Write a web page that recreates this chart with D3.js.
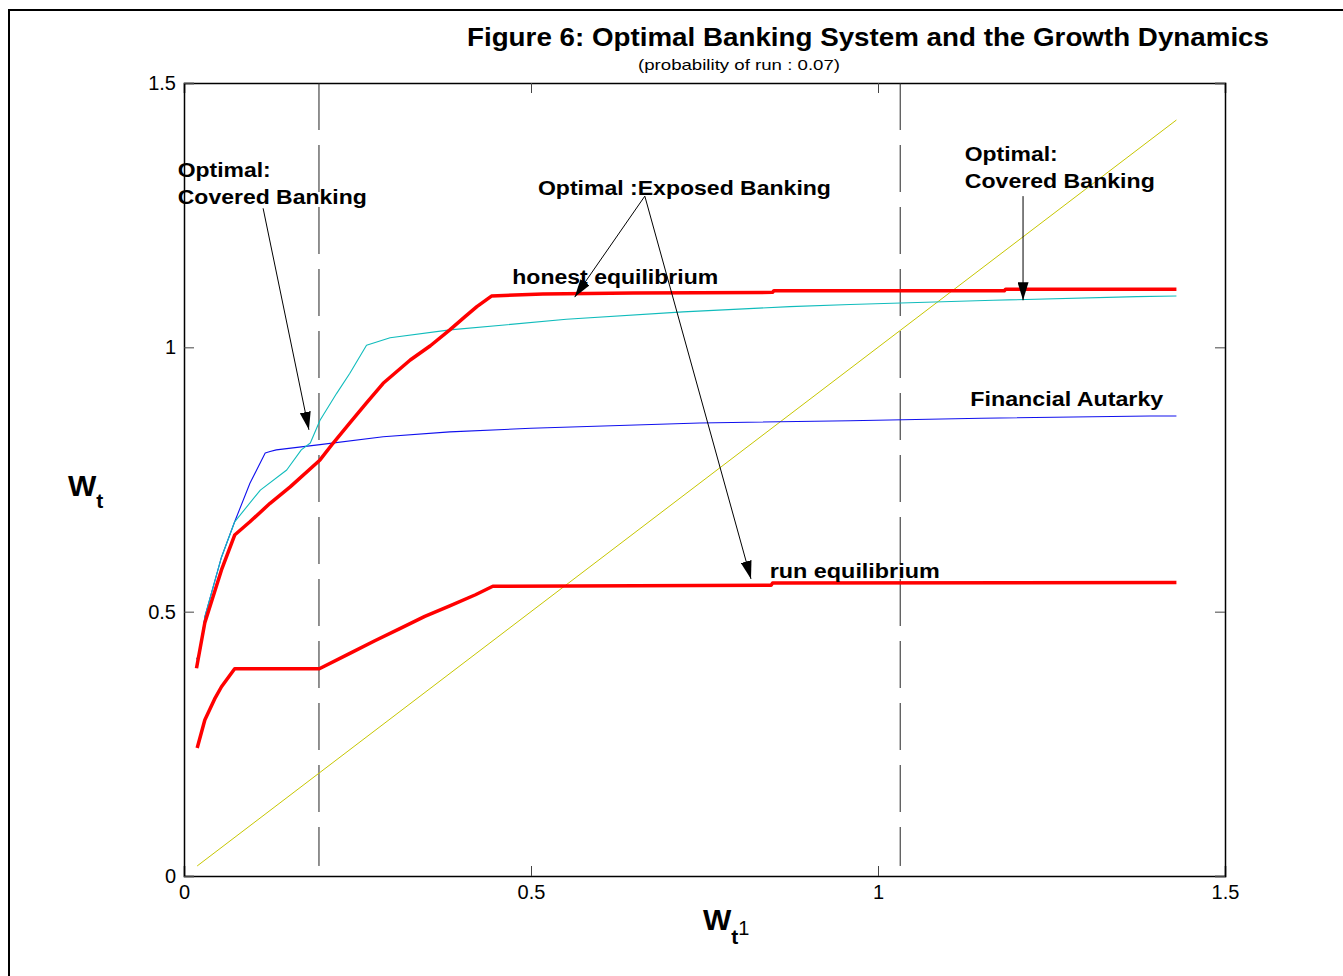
<!DOCTYPE html>
<html>
<head>
<meta charset="utf-8">
<script src="https://cdn.jsdelivr.net/npm/d3@7"></script>
<style>
  body { margin: 0; background: #fff; }
  svg { font-family: "Liberation Sans", Arial, sans-serif; }
</style>
</head>
<body>
<svg id="chart"></svg>
<script>
// ---- data ----
const xTicks = [0, 0.5, 1, 1.5];
const yTicks = [0, 0.5, 1, 1.5];

const honestX = [0.018, 0.030, 0.054, 0.073, 0.095, 0.124, 0.153, 0.196, 0.215, 0.239, 0.263, 0.287, 0.326, 0.355, 0.383, 0.405, 0.422, 0.443, 0.517, 0.647, 0.848, 0.850, 1.182, 1.184, 1.430];
const honestY = [0.393, 0.479, 0.579, 0.645, 0.670, 0.705, 0.736, 0.787, 0.819, 0.857, 0.895, 0.932, 0.976, 1.003, 1.033, 1.058, 1.077, 1.097, 1.101, 1.103, 1.104, 1.107, 1.107, 1.110, 1.110];

const runX = [0.019, 0.030, 0.045, 0.054, 0.073, 0.195, 0.239, 0.275, 0.311, 0.347, 0.383, 0.420, 0.445, 0.846, 0.848, 1.430];
const runY = [0.242, 0.295, 0.337, 0.358, 0.392, 0.392, 0.421, 0.445, 0.468, 0.491, 0.511, 0.532, 0.548, 0.550, 0.554, 0.555];

const coveredX = [0.018, 0.023, 0.030, 0.054, 0.073, 0.110, 0.148, 0.169, 0.182, 0.196, 0.220, 0.239, 0.263, 0.297, 0.383, 0.551, 0.719, 0.873, 0.960, 1.166, 1.373, 1.430];
const coveredY = [0.410, 0.422, 0.490, 0.603, 0.670, 0.730, 0.768, 0.806, 0.819, 0.862, 0.913, 0.951, 1.004, 1.018, 1.033, 1.053, 1.067, 1.077, 1.081, 1.089, 1.096, 1.097];

const autarkyX = [0.018, 0.023, 0.030, 0.054, 0.073, 0.095, 0.117, 0.124, 0.133, 0.196, 0.287, 0.383, 0.500, 0.743, 0.960, 1.149, 1.392, 1.430];
const autarkyY = [0.410, 0.422, 0.490, 0.603, 0.670, 0.743, 0.800, 0.803, 0.806, 0.816, 0.831, 0.840, 0.847, 0.857, 0.861, 0.866, 0.870, 0.870];

// 45 degree line
const diagX = [0.019, 1.430];
const diagY = [0.019, 1.430];

// regime thresholds (dashed verticals)
const thresholds = [0.1945, 1.032];

// annotations, in data units
const labels = [
  { text: "Optimal:", x: -0.009, y: 1.322, w: 93 },
  { text: "Covered Banking", x: -0.009, y: 1.271, w: 189 },
  { text: "Optimal :Exposed Banking", x: 0.510, y: 1.288, w: 293 },
  { text: "honest equilibrium", x: 0.473, y: 1.120, w: 206 },
  { text: "run equilibrium", x: 0.844, y: 0.564, w: 170 },
  { text: "Optimal:", x: 1.125, y: 1.352, w: 93 },
  { text: "Covered Banking", x: 1.125, y: 1.301, w: 190 },
  { text: "Financial Autarky", x: 1.133, y: 0.889, w: 193 }
];
const arrows = [
  { x1: 0.114, y1: 1.263, x2: 0.180, y2: 0.844 },
  { x1: 0.664, y1: 1.286, x2: 0.563, y2: 1.095 },
  { x1: 0.664, y1: 1.286, x2: 0.817, y2: 0.562 },
  { x1: 1.209, y1: 1.286, x2: 1.209, y2: 1.089 }
];

// ---- drawing ----
const width = 1343, height = 976;
const margin = { left: 184, right: 118, top: 83, bottom: 100 };

const svg = d3.select("#chart").attr("width", width).attr("height", height);

// outer figure frame
svg.append("rect")
  .attr("x", 9).attr("y", 10)
  .attr("width", width + 20).attr("height", height + 20)
  .attr("fill", "none").attr("stroke", "#000").attr("stroke-width", 2);

const x = d3.scaleLinear().domain([0, 1.5]).range([margin.left, width - margin.right]);
const y = d3.scaleLinear().domain([0, 1.5]).range([height - margin.bottom, margin.top]);

svg.append("defs").append("marker")
  .attr("id", "head")
  .attr("viewBox", "0 0 10 10")
  .attr("refX", 10).attr("refY", 5)
  .attr("markerWidth", 18).attr("markerHeight", 11)
  .attr("markerUnits", "userSpaceOnUse")
  .attr("orient", "auto")
  .attr("preserveAspectRatio", "none")
  .append("path")
  .attr("d", "M0,0 L10,5 L0,10 Z")
  .attr("fill", "#000");

// MATLAB style inward ticks on all sides
const tickLen = 10;
const axes = svg.append("g");
axes.append("g").attr("transform", `translate(0,${y(0)})`)
  .call(d3.axisBottom(x).tickValues(xTicks).tickSize(-tickLen).tickPadding(9).tickFormat(d3.format("")));
axes.append("g").attr("transform", `translate(0,${y(1.5)})`)
  .call(d3.axisTop(x).tickValues(xTicks).tickSize(-tickLen).tickFormat(""));
axes.append("g").attr("transform", `translate(${x(0)},0)`)
  .call(d3.axisLeft(y).tickValues(yTicks).tickSize(-tickLen).tickPadding(8).tickFormat(d3.format("")));
axes.append("g").attr("transform", `translate(${x(1.5)},0)`)
  .call(d3.axisRight(y).tickValues(yTicks).tickSize(-tickLen).tickFormat(""));
axes.selectAll(".domain").attr("stroke", "#000").attr("stroke-width", 1.5);
axes.selectAll(".tick line").attr("stroke", "#444");
axes.selectAll(".tick text")
  .attr("font-size", 20).attr("fill", "#000")
  .attr("font-family", "'Liberation Sans', Arial, sans-serif");

// dashed thresholds
svg.append("g").selectAll("line")
  .data(thresholds)
  .join("line")
  .attr("x1", d => x(d)).attr("x2", d => x(d))
  .attr("y1", y(1.5)).attr("y2", y(0.019))
  .attr("stroke", "#222").attr("stroke-width", 1)
  .attr("stroke-dasharray", "47,15");

const line = d3.line().x(d => x(d[0])).y(d => y(d[1]));
const series = [
  { xs: diagX, ys: diagY, color: "#c6c600", w: 1 },
  { xs: autarkyX, ys: autarkyY, color: "#1010ee", w: 1.1 },
  { xs: coveredX, ys: coveredY, color: "#10bcbc", w: 1.1 },
  { xs: runX, ys: runY, color: "#ff0000", w: 3.5 },
  { xs: honestX, ys: honestY, color: "#ff0000", w: 3.5 }
];
svg.append("g").selectAll("path")
  .data(series)
  .join("path")
  .attr("d", s => line(s.xs.map((v, i) => [v, s.ys[i]])))
  .attr("fill", "none")
  .attr("stroke", s => s.color)
  .attr("stroke-width", s => s.w)
  .attr("stroke-linejoin", "round");

// arrows
svg.append("g").selectAll("line")
  .data(arrows)
  .join("line")
  .attr("x1", d => x(d.x1)).attr("y1", d => y(d.y1))
  .attr("x2", d => x(d.x2)).attr("y2", d => y(d.y2))
  .attr("stroke", "#000").attr("stroke-width", 1)
  .attr("marker-end", "url(#head)");

// annotation labels
svg.append("g").selectAll("text")
  .data(labels)
  .join("text")
  .attr("x", d => x(d.x)).attr("y", d => y(d.y))
  .attr("font-size", 20).attr("font-weight", "bold")
  .attr("textLength", d => d.w).attr("lengthAdjust", "spacingAndGlyphs")
  .text(d => d.text);

// titles
svg.append("text")
  .attr("x", 467).attr("y", 46)
  .attr("font-size", 26).attr("font-weight", "bold")
  .attr("textLength", 802).attr("lengthAdjust", "spacingAndGlyphs")
  .text("Figure 6: Optimal Banking System and the Growth Dynamics");
svg.append("text")
  .attr("x", 739).attr("y", 70)
  .attr("text-anchor", "middle")
  .attr("font-size", 15)
  .attr("textLength", 202).attr("lengthAdjust", "spacingAndGlyphs")
  .text("(probability of run : 0.07)");

// axis labels
const yl = svg.append("text").attr("x", 68).attr("y", 496)
  .attr("font-size", 30).attr("font-weight", "bold");
yl.append("tspan").text("W");
yl.append("tspan").attr("font-size", 21).attr("dy", 12).text("t");

const xl = svg.append("text").attr("x", 703).attr("y", 930)
  .attr("font-size", 30).attr("font-weight", "bold");
xl.append("tspan").text("W");
xl.append("tspan").attr("font-size", 21).attr("dy", 14).text("t");
xl.append("tspan").attr("font-size", 20).attr("font-weight", "normal").attr("dy", -9).text("1");
</script>
</body>
</html>
